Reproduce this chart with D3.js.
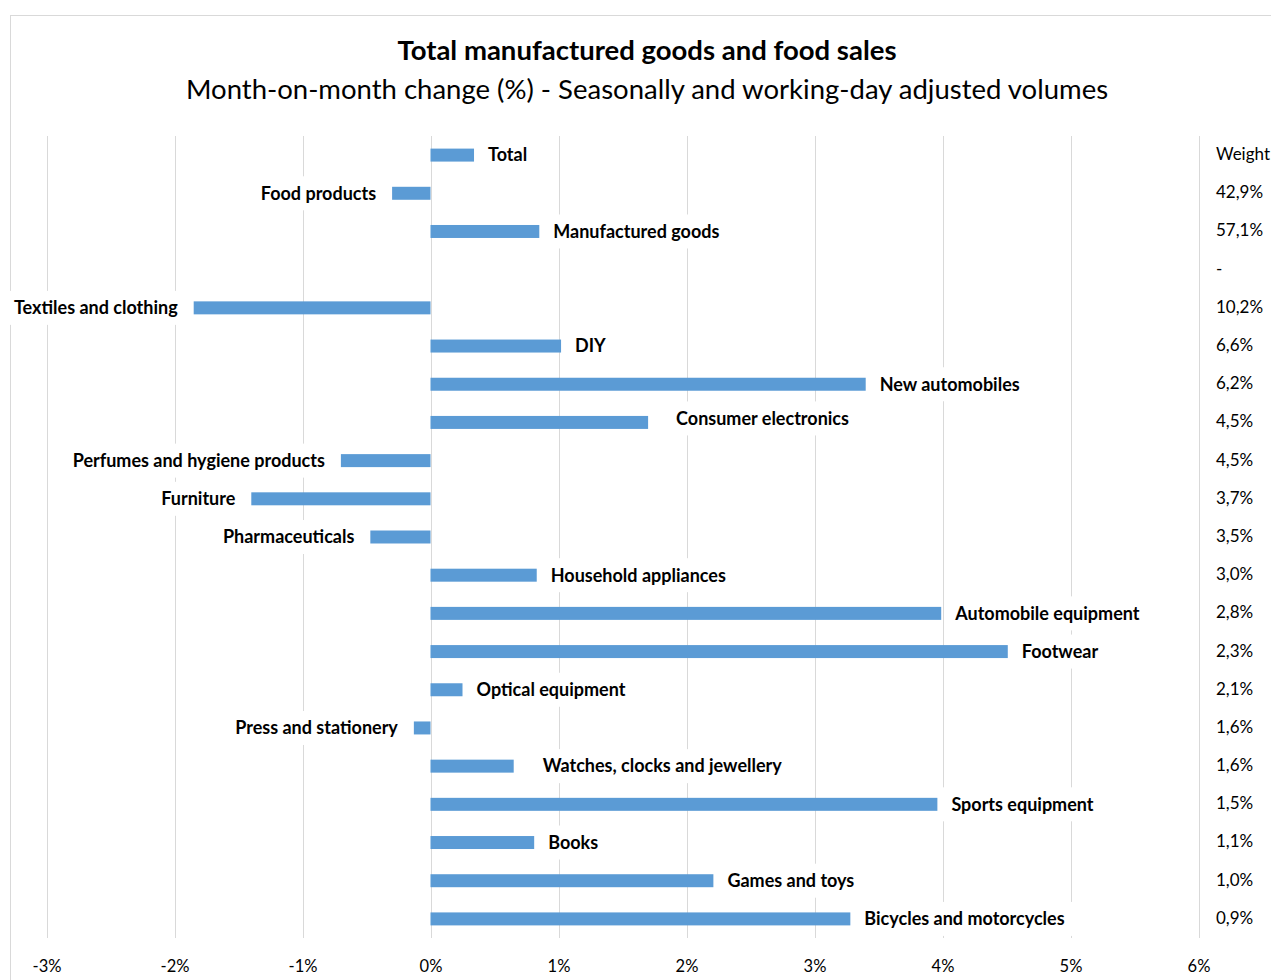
<!DOCTYPE html>
<html>
<head>
<meta charset="utf-8">
<script src="https://cdn.jsdelivr.net/npm/d3@7"></script>
<style>
  body { margin: 0; background: #fff; }
  text { font-family: Lato, "Open Sans", sans-serif; fill: #000; }
</style>
</head>
<body>
<svg id="chart"></svg>
<script>
// categories, top to bottom (empty string = spacer row)
var categories = ["Total", "Food products", "Manufactured goods", "",
    "Textiles and clothing", "DIY", "New automobiles", "Consumer electronics",
    "Perfumes and hygiene products", "Furniture", "Pharmaceuticals",
    "Household appliances", "Automobile equipment", "Footwear",
    "Optical equipment", "Press and stationery", "Watches, clocks and jewellery",
    "Sports equipment", "Books", "Games and toys", "Bicycles and motorcycles"];

// month-on-month change, %
var changes = [0.34, -0.30, 0.85, null,
    -1.85, 1.02, 3.40, 1.70,
    -0.70, -1.40, -0.47,
    0.83, 3.99, 4.51,
    0.25, -0.13, 0.65,
    3.96, 0.81, 2.21, 3.28];

// weight column (first row is the header)
var weights = ["Weight", "42,9%", "57,1%", "-",
    "10,2%", "6,6%", "6,2%", "4,5%",
    "4,5%", "3,7%", "3,5%",
    "3,0%", "2,8%", "2,3%",
    "2,1%", "1,6%", "1,6%",
    "1,5%", "1,1%", "1,0%", "0,9%"];

var xTicks = [-3, -2, -1, 0, 1, 2, 3, 4, 5, 6];

var W = 1271, H = 980;

var svg = d3.select("#chart")
    .attr("width", W)
    .attr("height", H);

// chart frame
svg.append("rect")
    .attr("x", 10.5).attr("y", 15.5)
    .attr("width", W + 20).attr("height", H + 20)
    .attr("fill", "#fff")
    .attr("stroke", "#d9d9d9");

// titles
svg.append("text")
    .attr("x", 647).attr("y", 60)
    .attr("text-anchor", "middle")
    .style("font-size", "27.5px")
    .style("font-weight", "bold")
    .text("Total manufactured goods and food sales");

svg.append("text")
    .attr("x", 647).attr("y", 99)
    .attr("text-anchor", "middle")
    .style("font-size", "27.5px")
    .text("Month-on-month change (%) - Seasonally and working-day adjusted volumes");

var x = d3.scaleLinear()
    .domain([-3, 6])
    .range([46.5, 1198.5]);

var y = d3.scaleBand()
    .domain(d3.range(categories.length))
    .range([136, 938])
    .paddingInner(0.66)
    .paddingOuter(0.33);

// vertical gridlines
svg.append("g").selectAll("line")
    .data(xTicks)
    .enter().append("line")
    .attr("x1", function (d) { return Math.round(x(d)) + 0.5; })
    .attr("x2", function (d) { return Math.round(x(d)) + 0.5; })
    .attr("y1", 136)
    .attr("y2", 938)
    .attr("stroke", "#d9d9d9")
    .attr("stroke-width", 1);

// x axis labels
var xAxis = d3.axisBottom(x)
    .tickValues(xTicks)
    .tickSize(0)
    .tickPadding(0)
    .tickFormat(function (d) { return d + "%"; });

var gx = svg.append("g")
    .attr("transform", "translate(0,960)")
    .call(xAxis);
gx.select(".domain").remove();
gx.selectAll("text")
    .style("font-size", "16.5px")
    .style("font-family", "Lato, 'Open Sans', sans-serif")
    .attr("fill", "#000");

var rows = categories.map(function (c, i) {
    return { i: i, name: c, value: changes[i], weight: weights[i] };
});
var barRows = rows.filter(function (d) { return d.value !== null; });

// bars
svg.append("g").selectAll("rect")
    .data(barRows)
    .enter().append("rect")
    .attr("x", function (d) { return x(Math.min(0, d.value)); })
    .attr("y", function (d) { return y(d.i); })
    .attr("width", function (d) { return Math.abs(x(d.value) - x(0)); })
    .attr("height", y.bandwidth())
    .attr("fill", "#5b9bd5");

// data labels (category names) with white boxes, like the Excel callouts
var nudge = { "Consumer electronics": [14, -4], "Watches, clocks and jewellery": [15, 0] };
var gapPos = 14, gapNeg = 16, pad = 10;

var lab = svg.append("g").selectAll("g")
    .data(barRows)
    .enter().append("g")
    .attr("transform", function (d) {
        var n = nudge[d.name] || [0, 0];
        var tx = d.value >= 0 ? x(d.value) + gapPos : x(d.value) - gapNeg;
        return "translate(" + (tx + n[0]) + "," + (y(d.i) + y.bandwidth() / 2 + n[1]) + ")";
    });

lab.append("rect").attr("class", "box").attr("fill", "#fff");

lab.append("text")
    .attr("text-anchor", function (d) { return d.value >= 0 ? "start" : "end"; })
    .attr("dy", "0.35em")
    .style("font-size", "18px")
    .style("font-weight", "bold")
    .text(function (d) { return d.name; });

lab.each(function () {
    var g = d3.select(this);
    var bb = g.select("text").node().getBBox();
    g.select("rect")
        .attr("x", bb.x - pad)
        .attr("y", -17)
        .attr("width", bb.width + 2 * pad)
        .attr("height", 34);
});

// weight column
svg.append("g").selectAll("text")
    .data(rows)
    .enter().append("text")
    .attr("x", 1216)
    .attr("y", function (d) { return y(d.i) + y.bandwidth() / 2 - 1; })
    .attr("dy", "0.35em")
    .style("font-size", "17px")
    .text(function (d) { return d.weight; });
</script>
</body>
</html>
